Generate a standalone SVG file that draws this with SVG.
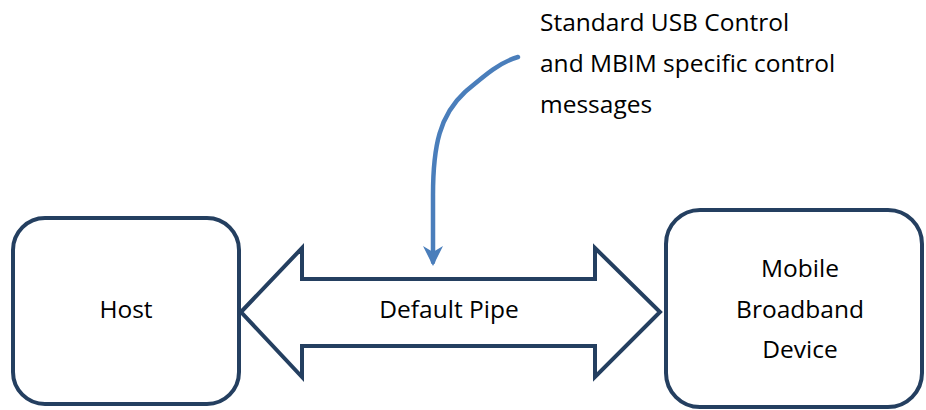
<svg xmlns="http://www.w3.org/2000/svg" width="926" height="410" viewBox="0 0 926 410">
  <style>
    .box { fill: #ffffff; stroke: #243f60; stroke-width: 4; }
    .pipe { fill: #ffffff; stroke: #243f60; stroke-width: 4; stroke-linejoin: miter; }
    .lbl { font-family: "Open Sans", "Liberation Sans", sans-serif; font-size: 24.5px; fill: #000000; }
    .mid { text-anchor: middle; }
    .note { fill: none; stroke: #4a7ebb; stroke-width: 4.5; stroke-linecap: round; }
  </style>
  <defs>
    <marker id="head" markerUnits="userSpaceOnUse" markerWidth="22" markerHeight="22" viewBox="0 0 22 22" refX="16" refY="11" orient="auto">
      <path d="M0,1 L20,11 L0,21 L6,11 Z" fill="#4a7ebb"/>
    </marker>
  </defs>

  <g id="host">
    <rect class="box" x="13" y="218" width="226" height="186" rx="32"/>
    <text class="lbl mid" x="126" y="318">Host</text>
  </g>

  <g id="device">
    <rect class="box" x="666" y="210" width="256" height="197" rx="34"/>
    <text class="lbl mid" x="800" y="277">Mobile</text>
    <text class="lbl mid" x="800" y="318">Broadband</text>
    <text class="lbl mid" x="800" y="358">Device</text>
  </g>

  <g id="connectors">
    <g id="default-pipe">
      <path class="pipe" d="M241,312 L302,248 L302,279 L595,279 L595,248 L660,312 L595,377 L595,346 L302,346 L302,377 Z"/>
      <text class="lbl mid" x="449" y="318">Default Pipe</text>
    </g>
    <path class="note" d="M518,57 C500,62 485,75 465,92 C440,115 433,145 433,195 L433,262" marker-end="url(#head)"/>
  </g>

  <g id="note-text">
    <text class="lbl" x="540" y="31">Standard USB Control</text>
    <text class="lbl" x="540" y="72">and MBIM specific control</text>
    <text class="lbl" x="540" y="113">messages</text>
  </g>
</svg>
